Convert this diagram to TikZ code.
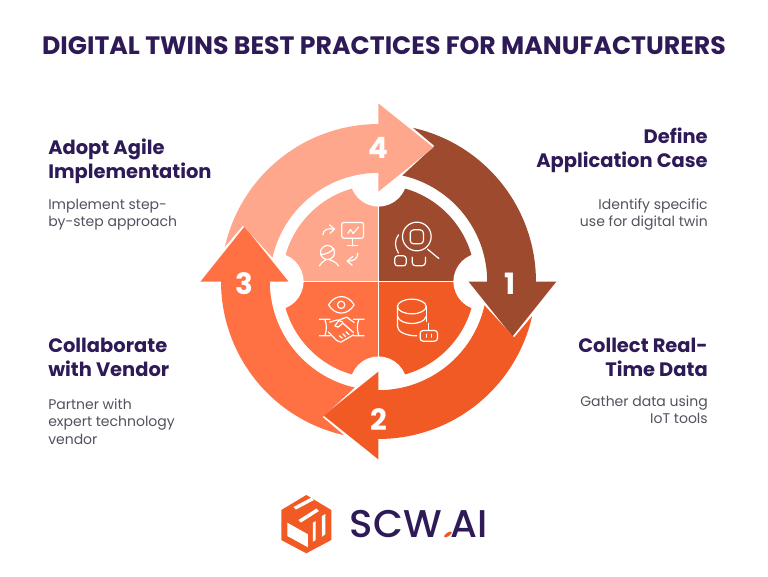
\documentclass[tikz,border=0pt]{standalone}
\usepackage{fontspec}
\setmainfont{Poppins}
\newfontfamily\logofont{Poppins Medium}
\newfontfamily\logoslant[FakeSlant=0.9]{Poppins Medium}
\definecolor{cA}{HTML}{9E4A2F}
\definecolor{cB}{HTML}{F15A24}
\definecolor{cC}{HTML}{FF7043}
\definecolor{cD}{HTML}{FFA78C}
\definecolor{ink}{HTML}{2E1A57}
\definecolor{body}{HTML}{55505E}
\tikzset{
 num/.style={text=white,font=\fontsize{22}{22}\selectfont\bfseries,inner sep=0pt},
 head/.style={text=ink,font=\fontsize{14.6}{18}\selectfont\bfseries,inner sep=0pt},
 txt/.style={text=body,font=\fontsize{10.5}{13.1}\selectfont,inner sep=0pt},
 icon/.style={draw=white,line width=0.9pt,line cap=round,line join=round},
}
\newcommand{\bandarrow}[2]{%
 \fill[#1,rotate=#2] (77.3:118.1pt) arc[start angle=77.3,end angle=0,radius=118.1pt]
  -- (133.5pt,0pt) -- (100.5pt,-41.2pt) -- (67.5pt,0pt) -- (81.5pt,0pt)
  arc[start angle=0,end angle=77.3,radius=81.5pt]
  -- (67.6:110pt) -- cycle;}
\begin{document}
\begin{tikzpicture}[x=0.75pt,y=0.75pt]
\useasboundingbox (-378.5,-294.5) rectangle (389.5,281.5);
% quadrants
\fill[cA] (0,0) -- (90:72.5pt) arc[start angle=90,end angle=0,radius=72.5pt] -- cycle;
\fill[cB] (0,0) -- (0:72.5pt) arc[start angle=0,end angle=-90,radius=72.5pt] -- cycle;
\fill[cC] (0,0) -- (-90:72.5pt) arc[start angle=-90,end angle=-180,radius=72.5pt] -- cycle;
\fill[cD] (0,0) -- (180:72.5pt) arc[start angle=180,end angle=90,radius=72.5pt] -- cycle;
\draw[white,line width=0.8pt] (0,-98) -- (0,98) (-98,0) -- (98,0);
\foreach \a in {0,90,180,270} \fill[white] (\a:77.6pt) circle[radius=21.4pt];
% arrows
\bandarrow{cA}{0}
\bandarrow{cB}{-90}
\bandarrow{cC}{-180}
\bandarrow{cD}{-270}
\node[num] (n1) at (132,-2) {1};
\node[num] (n2) at (0,-138) {2};
\node[num] (n3) at (-134,-2) {3};
\node[num] (n4) at (0,134) {4};
% icons, in units of a third of a pixel
\begin{scope}[x=0.25pt,y=-0.25pt,shift={(-565,-575)},icon]
 % magnifier
 \draw (680,440) circle[radius=43];
 \draw[rounded corners=2.6pt] (660,420) rectangle (700,462);
 \draw (712,478) -- (746,506);
 \draw (625,435) .. controls (613,450) and (613,472) .. (625,490);
 \draw[rounded corners=2pt] (614,498) rectangle (648,528);
 \draw[rounded corners=2.6pt] (666,502) -- (666,528) -- (706,528) -- (706,502);
 % database and bot
 \draw (665,650) ellipse[x radius=43,y radius=22];
 \draw (622,650) -- (622,710) .. controls (622,727) and (650,738) .. (680,738);
 \draw (708,650) -- (708,695);
 \draw (622,680) .. controls (630,708) and (700,708) .. (708,680);
 \draw[rounded corners=2.2pt] (690,722) rectangle (742,754);
 \draw (716,700) -- (716,722);
 \draw (708,733) -- (708,742) (724,733) -- (724,742);
 % eye and handshake
 \draw (415,645) .. controls (435,612) and (472,612) .. (492,645) .. controls (472,678) and (435,678) .. (415,645) -- cycle;
 \draw (453,645) circle[radius=11];
 \draw (388,688) -- (420,688) (404,688) .. controls (410,705) and (410,720) .. (404,738) (388,738) -- (420,738);
 \draw (490,688) -- (522,688) (506,688) .. controls (500,705) and (500,720) .. (506,738) (490,738) -- (522,738);
 \draw (418,697) -- (442,690) -- (458,697);
 \draw (492,698) -- (470,682) -- (448,690) -- (434,708) -- (444,712) -- (458,700) -- (490,728);
 \draw (415,727) -- (440,752) -- (452,757) -- (490,735);
 \draw (448,738) -- (456,745) (458,732) -- (466,740) (468,726) -- (476,734);
 % monitor and person
 \draw[rounded corners=1.5pt] (455,398) rectangle (520,445);
 \draw (487,445) -- (487,468) (472,468) -- (503,468);
 \draw (473,431) -- (481,419) -- (489,431) -- (505,412);
 \draw (398,435) .. controls (400,418) and (415,414) .. (431,418);
 \draw (418,405) -- (433,418) -- (420,430);
 \draw (412,488) circle[radius=21];
 \draw (393,494) .. controls (405,494) and (422,488) .. (431,476);
 \draw (388,528) .. controls (395,516) and (403,512) .. (407,510) (417,510) .. controls (425,512) and (438,516) .. (445,528);
 \draw (503,490) .. controls (502,508) and (490,514) .. (472,514);
 \draw (488,500) -- (471,514) -- (486,526);
\end{scope}
% texts
\node[head,anchor=center,align=center,font=\fontsize{18.9}{20}\selectfont\bfseries] (title) at (5.5,235.5) {DIGITAL TWINS BEST PRACTICES FOR MANUFACTURERS};
\node[head,anchor=north west,align=left] (h4) at (-330.5,143) {Adopt Agile\\Implementation};
\node[txt,anchor=north west,align=left] (t4) at (-330.5,83) {Implement step-\\by-step approach};
\node[head,anchor=north east,align=right] (h1) at (329.5,153.5) {Define\hspace{0.25em}\\Application Case};
\node[txt,anchor=north east,align=right] (t1) at (329.5,83) {Identify specific\\use for digital twin};
\node[head,anchor=north east,align=right] (h2) at (329.5,-56) {Collect Real-\\Time Data};
\node[txt,anchor=north east,align=right] (t2) at (329.5,-114) {Gather data using\\IoT tools};
\node[head,anchor=north west,align=left] (h3) at (-330.5,-56) {Collaborate\\with Vendor};
\node[txt,anchor=north west,align=left] (t3) at (-330.5,-117) {Partner with\\expert technology\\vendor};
% logo
\fill[cB] (-72.2,-213.5) -- (-47.2,-228.5) -- (-47.2,-258.5) -- (-72.2,-271.8) -- (-97.2,-258.5) -- (-97.2,-228.5) -- cycle;
\fill[white] (-91.2,-241.2) -- (-70.5,-252.8) -- (-70.5,-265.8) -- (-91.2,-254.5) -- cycle;
\fill[white] (-85,-225.5) -- (-67,-216) -- (-64.5,-218.5) -- (-82.5,-228) -- cycle;
\fill[white] (-80,-238.5) -- (-62,-227) -- (-59.5,-229.5) -- (-77.5,-241) -- cycle;
\fill[white] (-65.5,-241.2) -- (-62.8,-239.5) -- (-62.8,-258.5) -- (-65.5,-260.2) -- cycle;
\fill[white] (-56.5,-234.5) -- (-53.2,-232.5) -- (-53.2,-252.8) -- (-56.5,-255.2) -- cycle;
\node[inner sep=0pt,anchor=base west,text=ink,font=\fontsize{29}{29}\logofont] (logo) at (-29,-256) {SCW\textcolor{cB}{\logoslant.}AI};
\end{tikzpicture}
\end{document}
